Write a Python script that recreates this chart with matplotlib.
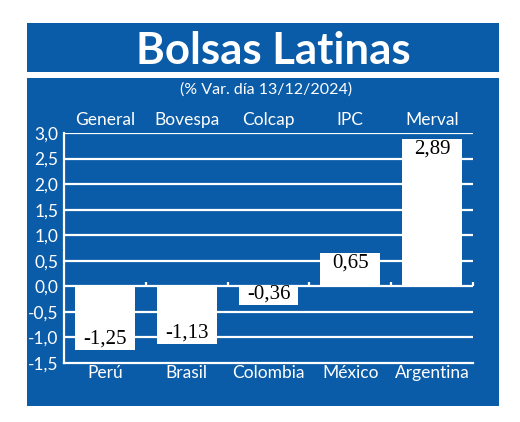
import numpy as np
import matplotlib
matplotlib.use("Agg")
import matplotlib.pyplot as plt
from matplotlib.patches import Rectangle
from matplotlib.transforms import ScaledTranslation

# datos
indices = ["General", "Bovespa", "Colcap", "IPC", "Merval"]
paises = ["Perú", "Brasil", "Colombia", "México", "Argentina"]
variacion = [-1.25, -1.13, -0.36, 0.65, 2.89]
yticks = [-1.5, -1.0, -0.5, 0.0, 0.5, 1.0, 1.5, 2.0, 2.5, 3.0]

azul = "#0b5ca8"
W, H = 520, 422

fig = plt.figure(figsize=(W / 100, H / 100), dpi=100, facecolor="white")

def px(x0, y0, x1, y1):
    # rectangulo en pixeles (origen arriba) -> coords de figura
    return (x0 / W, 1 - y1 / H), (x1 - x0) / W, (y1 - y0) / H

for box in [(27, 23, 499, 72), (27, 78, 499, 406)]:
    xy, w, h = px(*box)
    fig.patches.append(Rectangle(xy, w, h, transform=fig.transFigure,
                                 facecolor=azul, edgecolor="none", zorder=-5))

fig.text(273 / W, 1 - 64 / H, "Bolsas Latinas", color="white", fontsize=31.5,
         fontweight="bold", family="Lato", ha="center", va="baseline")
fig.text(266 / W, 1 - 90 / H, "(% Var. día 13/12/2024)", color="white",
         fontsize=11.5, family="Lato", ha="center", va="center")

ax = fig.add_axes([64 / W, 1 - 363 / H, (473 - 64) / W, (363 - 133) / H])
ax.set_zorder(2)
ax.set_facecolor("none")
x = np.arange(len(variacion))
ax.set_xlim(-0.5, len(variacion) - 0.5)
ax.set_ylim(-1.5, 3.0)

for y in yticks[1:]:
    ax.axhline(y, color="white", lw=1.6, zorder=1)
ax.vlines(np.append(x[1:] - 0.5, len(x) - 0.5), 0, 0.08, color="white",
          lw=1.6, zorder=1, clip_on=False)

ax.bar(x, variacion, width=0.73, color="white", zorder=2)

for xi, v in zip(x, variacion):
    off = -10 if v > 0 else 11
    ax.annotate(f"{v:.2f}".replace(".", ","), (xi, v), xytext=(0, off * 0.72),
                textcoords="offset points", ha="center", va="center",
                fontsize=15, family="Liberation Serif", color="black", zorder=3)

arriba = ax.get_xaxis_transform() + ScaledTranslation(0, 5 / 100, fig.dpi_scale_trans)
abajo = ax.get_xaxis_transform() + ScaledTranslation(0, -2 / 100, fig.dpi_scale_trans)
for xi, a, b in zip(x, indices, paises):
    ax.text(xi, 1.0, a, transform=arriba, ha="center", va="bottom",
            color="white", fontsize=12.5, family="Lato")
    ax.text(xi, 0.0, b, transform=abajo, ha="center", va="top",
            color="white", fontsize=12.5, family="Lato")

ax.set_xticks([])
ax.set_yticks(yticks)
ax.set_yticklabels([f"{v:.1f}".replace(".", ",") for v in yticks])
ax.tick_params(axis="y", length=0, pad=4, labelcolor="white", labelsize=12.5)
for lbl in ax.get_yticklabels():
    lbl.set_family("Lato")
for s in ["top", "right"]:
    ax.spines[s].set_visible(False)
for s in ["left", "bottom"]:
    ax.spines[s].set_color("white")
    ax.spines[s].set_linewidth(1.6)

fig.savefig("out.png", dpi=100, facecolor="white")
